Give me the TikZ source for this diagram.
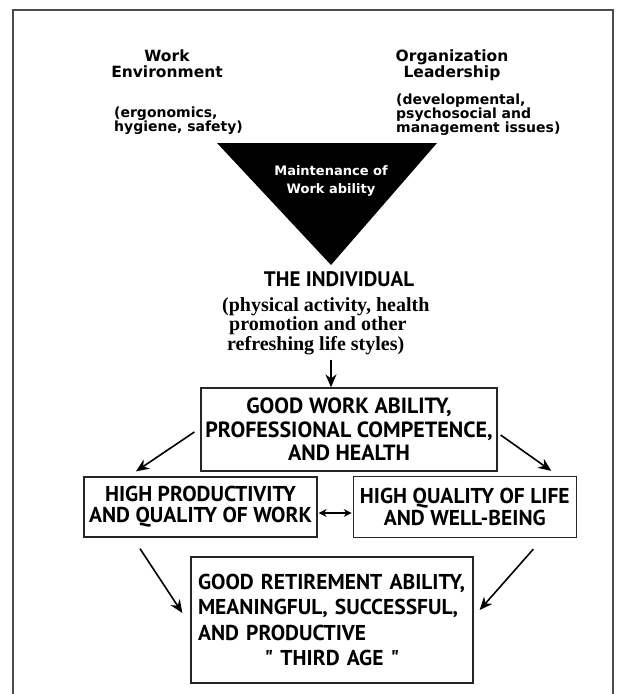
\documentclass[tikz,border=0pt]{standalone}
\usepackage{fontspec}
\setmainfont{Liberation Serif}
\newfontfamily\boxfont{PT Sans}
\newfontfamily\headfont{DejaVu Sans}
\usepackage{tikz}
\usetikzlibrary{arrows.meta,positioning,calc}

\begin{document}
\begin{tikzpicture}[x=1pt,y=-1pt]
\tikzstyle{every node}=[inner sep=0pt]
\tikzstyle{stage}=[draw=black!85,line width=1.3pt,rectangle,align=center,font=\boxfont\bfseries\fontsize{22}{23.5}\selectfont]
\tikzstyle{head}=[align=center,font=\headfont\bfseries\fontsize{15.5}{16}\selectfont]
\tikzstyle{note}=[align=left,anchor=north west,font=\headfont\bfseries\fontsize{14}{14}\selectfont]
\tikzstyle{arr}=[-{Stealth[length=13pt,width=11pt]},line width=1.6pt]
\useasboundingbox (0,0) rectangle (617,694);
\draw[black!70,line width=1.5pt] (13,694) -- (13,10) -- (613,10) -- (613,694);
% the three sides
\node[head] (work) at (167,64) {Work\\Environment};
\node[note] (ergo) at (114,107) {(ergonomics,\\hygiene, safety)};
\node[head] (org) at (452,65) {Organization\\Leadership};
\node[note] (dev) at (396,94) {(developmental,\\psychosocial and\\management issues)};
\coordinate (apex) at (331,265);
\fill (217,143) -- (437,143) -- (apex) -- cycle;
\node[head,white,font=\headfont\bfseries\fontsize{13}{18}\selectfont] (maint) at (331,181) {Maintenance of\\Work ability};
\node[font=\boxfont\bfseries\fontsize{21}{21}\selectfont] (indiv) at (339,279) {THE INDIVIDUAL};
\node[align=left,anchor=north west,font=\bfseries\fontsize{20}{19.5}\selectfont] (phys) at (222,297)
  {(physical activity, health\\\hspace*{7pt}promotion and other\\\hspace*{5pt}refreshing life styles)};
% the outcomes
\node[stage,minimum width=296pt,minimum height=83pt] (good) at (349,429.5)
  {GOOD WORK ABILITY,\\PROFESSIONAL COMPETENCE,\\AND HEALTH};
\node[stage,minimum width=233pt,minimum height=60pt,font=\boxfont\bfseries\fontsize{21.5}{21}\selectfont] (prod) at (200.5,507)
  {HIGH PRODUCTIVITY\\AND QUALITY OF WORK};
\node[stage,minimum width=223pt,minimum height=61pt,font=\boxfont\bfseries\fontsize{21.5}{21.5}\selectfont,right=35pt of prod] (qual)
  {HIGH QUALITY OF LIFE\\AND WELL-BEING};
\node[stage,text width=268pt,align=left,inner xsep=7pt,minimum height=126pt,font=\boxfont\bfseries\fontsize{21.5}{25.5}\selectfont] (retire) at (332,620)
  {GOOD RETIREMENT ABILITY,\\MEANINGFUL, SUCCESSFUL,\\AND PRODUCTIVE\\\makebox[\linewidth][c]{" THIRD AGE "}};
% connectors
\draw[arr] ($(phys.south -| apex)+(0,5)$) -- (good.north -| apex);
\draw[arr] ($(good.west)+(-6,2.5)$) -- ($(prod.north)+(-64.5,-5)$);
\draw[arr] ($(good.east)+(3,5.5)$) -- ($(qual.north)+(86.5,-5)$);
\draw[{Stealth[length=8pt,width=8pt]}-{Stealth[length=8pt,width=8pt]},line width=1.4pt] ($(prod.east)+(1,6)$) -- ($(qual.west)+(-1,6)$);
\draw[arr] ($(prod.south)+(-60.5,11)$) -- ($(retire.west)+(-8,-7)$);
\draw[arr] ($(qual.south)+(68.5,11)$) -- ($(retire.east)+(6,-10)$);
\end{tikzpicture}
\end{document}
